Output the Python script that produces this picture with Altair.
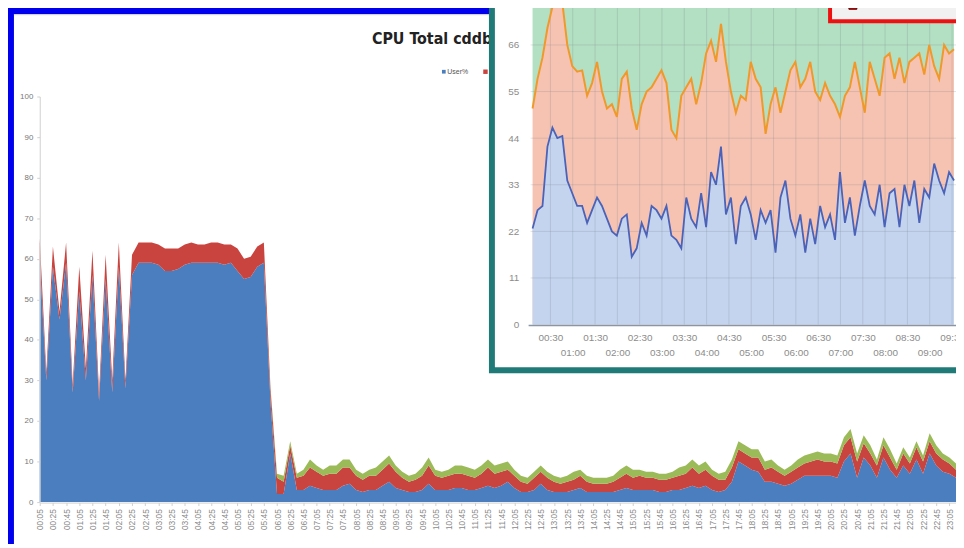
import json
import numpy as np
import pandas as pd
import altair as alt

# ---------------- page geometry ----------------
OX, OY = 8, 8
W, H = 956, 536


def px(x):
    return x - OX


def py(y):
    return y - OY


# ---------------- main chart data (nmon CPU Total) ----------------
main_series = ["User%", "Sys%", "Wait%"]
main_user = [
    60, 30, 58, 45, 59, 27, 52, 30, 56, 25, 55, 27, 58, 28, 56,
    59, 59, 59, 58.5, 57, 57, 57.5, 58.5, 59, 59,
    59, 59, 59, 58.5, 59, 57, 55, 55.5, 58, 59,
    25, 2, 2, 12,
    3, 3, 4, 3.5, 3, 3, 3, 4, 4.5, 3,
    2.5, 3, 3, 4, 5, 3.5, 3, 2.5, 2.5, 3,
    4.5, 3, 3, 3, 3.5, 3.5, 3, 3, 3.5, 4,
    3.5, 4, 5, 3.5, 2.5, 2.5, 3, 4.5, 3, 2.5,
    2.5, 2.5, 3, 3.5, 2.5, 2.5, 2.5, 2.5, 2.5, 3,
    3.5, 3, 3, 3, 3, 2.5, 2.5, 3, 3, 3.5,
    4, 3.5, 4, 3, 2.5, 3, 5, 10, 9, 8,
    7.5, 5, 5, 4.5, 4, 4.5, 5.5, 6.5, 6.5, 6.5,
    6.5, 6.5, 6, 10, 12, 6, 11, 9, 6, 11,
    8, 6, 9, 7, 10.5, 7, 12, 9, 7.5, 7,
    6,
]
main_sys = [
    5, 2, 5, 2, 5, 2, 6, 3, 6, 2, 6, 3, 6, 2, 5,
    5, 5, 5, 5, 5.5, 5.5, 5, 5, 5, 4.5,
    4.5, 5, 5, 5, 4.5, 5.5, 5, 5, 5, 5,
    3, 4, 3, 2,
    3, 3.5, 4.5, 4, 3.5, 4, 4, 4.5, 4, 3.5,
    3, 3.5, 3.5, 4, 4.5, 4, 3, 2.5, 3, 3.5,
    4.5, 3.5, 3, 3.5, 3.5, 3.5, 3.5, 3, 3.5, 4.5,
    3.5, 3.5, 3, 3, 2.5, 2, 3, 3, 3, 2.5,
    2, 2.5, 2.5, 3, 2.5, 2, 2, 2, 2.5, 3,
    3.5, 3, 3.5, 3, 3, 3, 3, 3, 3.5, 3.5,
    4.5, 3.5, 4, 3.5, 3, 2.5, 3.5, 3, 3, 3,
    3.5, 3, 3.5, 3, 2.5, 3, 3, 3, 3.5, 4,
    3.5, 3.5, 3.5, 4, 4, 4, 3.5, 3, 3, 3,
    3, 2, 3, 2.5, 3, 3, 3, 3, 3, 2.5,
    2,
]
main_wait = [
    0, 0, 0, 0, 0, 0, 0, 0, 0, 0, 0, 0, 0, 0, 0,
    0, 0, 0, 0, 0, 0, 0, 0, 0, 0,
    0, 0, 0, 0, 0, 0, 0, 0, 0, 0,
    0.5, 1, 1.5, 1,
    1, 1.5, 2, 1.5, 1.5, 2, 2, 2, 2, 1.5,
    1.5, 1.5, 2, 2, 2, 1.5, 1.5, 1.5, 1.5, 2,
    2, 1.5, 1.5, 1.5, 2, 2, 2, 2, 2, 2,
    2, 2, 2, 1.5, 1.5, 1.5, 1.5, 1.5, 1.5, 1.5,
    1.5, 1.5, 2, 1.5, 1.5, 1.5, 1.5, 1.5, 1.5, 2,
    2, 2, 1.5, 1.5, 1.5, 1.5, 1.5, 1.5, 2, 2,
    2, 2, 2, 1.5, 1.5, 2, 2, 2, 2, 2,
    2, 2, 2, 1.5, 1.5, 1.5, 2, 2, 2, 2,
    2, 2, 2, 2, 2, 2, 2, 2, 1.5, 2,
    2, 1.5, 1.5, 1.5, 1.5, 1.5, 2, 2, 1.5, 1.5,
    1.5,
]
N_MAIN = len(main_user)
main_labels = ["%02d:%02d" % ((5 + 10 * i) // 60, (5 + 10 * i) % 60) for i in range(N_MAIN)]
main_tick_idx = list(range(0, N_MAIN, 2))
main_y_ticks = list(range(0, 101, 10))
main_colors = ["#4a7ebf", "#c9443f", "#9bbb59"]

rows = []
for o, (s, arr) in enumerate(zip(main_series, [main_user, main_sys, main_wait])):
    for i, v in enumerate(arr):
        rows.append({"i": i, "v": v, "s": s, "o": o})
main_df = pd.DataFrame(rows)

# ---------------- inset chart data ----------------
inset_total = [
    51, 58, 63, 70, 75, 75, 76, 66, 61, 59.7,
    60, 54, 57, 62, 55, 51, 52, 49, 58, 59.7,
    51, 46, 52, 55, 56, 58, 60, 57, 46, 44,
    54, 56, 58, 52, 57, 64, 67, 62, 71, 62,
    55, 50, 54, 53, 62, 58, 56, 45, 52, 56,
    50, 55, 60, 62, 56, 58, 62, 55, 53, 57,
    54, 52, 49, 54, 56, 62, 56, 50, 62, 58,
    54, 63, 64, 58, 63, 57, 62, 63, 64, 59,
    66, 61, 58, 66, 64, 65,
]
inset_user = [
    22.7, 27, 28, 42, 46.5, 44, 44.5, 34, 31, 28,
    28, 24, 27, 30, 28, 25, 22, 21, 25, 26,
    16, 18, 24, 21, 28, 27, 25, 28, 21, 20,
    18, 30, 25, 23, 31, 23, 36, 33, 42, 26,
    30, 19, 28, 30, 26, 20, 27, 24, 27, 17,
    30, 34, 25, 21, 26, 17, 25, 19, 28, 23,
    26, 20, 36, 24, 30, 21, 28, 34, 28, 26,
    33, 23, 31, 32, 23, 33, 28, 34, 24, 32,
    30, 38, 34, 31, 36, 34,
]
N_IN = len(inset_user)
inset_minutes = [6 + k * 20.0 / 3.0 for k in range(N_IN)]  # sample times (min after 00:00)
inset_df = pd.DataFrame({"m": inset_minutes, "user": inset_user, "total": inset_total})

inset_x_ticks = list(range(30, 600, 30))
inset_tick_labels = ["%02d:%02d" % (t // 60, t % 60) for t in inset_x_ticks]
inset_y_ticks = [0, 11, 22, 33, 44, 55, 66]
inset_hgrid = [11, 22, 33, 44, 55, 66, 77]

# ---------------- helpers for frames / decoration ----------------
one = pd.DataFrame({"k": [0]})


def box(x1, y1, x2, y2, color, **kw):
    return alt.Chart(one).mark_rect(color=color, **kw).encode(
        x=alt.value(px(x1)), x2=alt.value(px(x2)),
        y=alt.value(py(y1)), y2=alt.value(py(y2)))


def label(x, y, txt, **kw):
    return alt.Chart(one).mark_text(text=txt, **kw).encode(
        x=alt.value(px(x)), y=alt.value(py(y)))


# ---------------- main chart ----------------
main_x_axis = alt.Axis(
    orient="bottom", offset=py(504.5) - H, values=main_tick_idx,
    labelExpr=json.dumps(main_labels) + "[datum.value]",
    labelAngle=270, labelFontSize=8.5, labelColor="#8a8a8a", labelFont="Liberation Sans",
    labelPadding=3, labelOverlap=False, labelFlush=False,
    tickSize=3, tickColor="#d0d0d0", domainColor="#d0d0d0",
    grid=False, title=None, zindex=1)
main_y_axis = alt.Axis(
    orient="left", offset=-px(40), values=main_y_ticks,
    labelFontSize=8, labelColor="#777777", labelFont="Liberation Sans", labelPadding=4,
    tickSize=3, tickColor="#d0d0d0", domainColor="#d0d0d0",
    grid=False, title=None, zindex=1)

main_area = alt.Chart(main_df).mark_area().encode(
    x=alt.X("i:Q", scale=alt.Scale(domain=[0, N_MAIN - 1], range=[px(40), px(964)], nice=False, zero=False),
            axis=main_x_axis),
    y=alt.Y("v:Q", stack="zero", scale=alt.Scale(domain=[0, 100], range=[py(504), py(95)], nice=False),
            axis=main_y_axis),
    color=alt.Color("s:N", scale=alt.Scale(domain=main_series, range=main_colors), legend=None),
    order=alt.Order("o:Q"),
)
main_group = alt.layer(main_area)

main_decor = [
    box(-5, -5, 980, 560, "#0000ee"),
    box(14, 12, 980, 560, "#ffffff"),
    alt.Chart(one).mark_rule(color="#d8d8d8", strokeWidth=1).encode(
        x=alt.value(px(14)), x2=alt.value(px(980)), y=alt.value(py(12.5))),
    label(375, 37, "CPU Total cddbmdb01  20/05/2014", align="left", baseline="middle",
          font="Liberation Sans Narrow, DejaVu Sans Condensed, Roboto", fontSize=16,
          fontWeight="bold", color="#222222"),
    alt.Chart(one).mark_square(color="#4a7ebf", size=14, opacity=1).encode(
        x=alt.value(px(447.5)), y=alt.value(py(70))),
    label(451, 70, "User%", align="left", baseline="middle", fontSize=7,
          font="Liberation Sans", color="#555555"),
    alt.Chart(one).mark_square(color="#c9443f", size=20, opacity=1).encode(
        x=alt.value(px(489.5)), y=alt.value(py(70))),
    label(494, 70, "Sys%", align="left", baseline="middle", fontSize=7,
          font="Liberation Sans", color="#555555"),
]

# ---------------- inset chart ----------------
xs = alt.Scale(domain=[0, 600], range=[px(532.5), px(982.5)], nice=False, zero=False)
ys = alt.Scale(domain=[0, 66], range=[py(325), py(43)], nice=False, zero=True)

row_labels = [[lab] if lab.endswith(":30") else ["", lab] for lab in inset_tick_labels]
inset_x_axis = alt.Axis(
    orient="bottom", offset=py(325.5) - H, values=inset_x_ticks,
    labelExpr=json.dumps(row_labels) + "[round(datum.value / 30) - 1]",
    labelFontSize=10, labelColor="#8c8c8c", labelFont="Liberation Sans", labelLineHeight=15,
    labelPadding=8, labelOverlap=False, labelFlush=False, labelAngle=0,
    ticks=False, domain=True, domainColor="#8797a8", domainWidth=1.5,
    grid=False, title=None, zindex=1)
inset_y_axis = alt.Axis(
    orient="left", offset=-px(535), values=inset_y_ticks,
    labelFontSize=10, labelColor="#8c8c8c", labelFont="Liberation Sans", labelPadding=12,
    ticks=False, domain=False, grid=False, title=None, zindex=1)

X_in = alt.X("m:Q", scale=xs, axis=inset_x_axis)
base_in = alt.Chart(inset_df)

green_area = base_in.mark_area(color="#b3dfc3").encode(
    x=X_in, y=alt.Y("total:Q", scale=ys, axis=inset_y_axis), y2=alt.datum(100))
salmon_area = base_in.mark_area(color="#f6c3b2").encode(
    x=X_in, y=alt.Y("total:Q", scale=ys, axis=inset_y_axis))
blue_area = base_in.mark_area(color="#c4d4ef").encode(
    x=X_in, y=alt.Y("user:Q", scale=ys, axis=inset_y_axis))

hgrid = alt.Chart(pd.DataFrame({"gy": inset_hgrid})).mark_rule(
    color="#6f7f80", strokeWidth=1, opacity=0.22).encode(
    y=alt.Y("gy:Q", scale=ys, axis=inset_y_axis),
    x=alt.value(px(535)), x2=alt.value(W + 10))
vgrid = alt.Chart(pd.DataFrame({"gx": inset_x_ticks})).mark_rule(
    color="#6f7f80", strokeWidth=1, opacity=0.22).encode(
    x=alt.X("gx:Q", scale=xs, axis=inset_x_axis),
    y=alt.value(py(325)), y2=alt.value(-20))

blue_line = base_in.mark_line(color="#4a62b8", strokeWidth=1.8).encode(
    x=X_in, y=alt.Y("user:Q", scale=ys, axis=inset_y_axis))
orange_line = base_in.mark_line(color="#f0992a", strokeWidth=2).encode(
    x=X_in, y=alt.Y("total:Q", scale=ys, axis=inset_y_axis))

inset_group = alt.layer(green_area, salmon_area, blue_area, hgrid, vgrid, blue_line, orange_line)

inset_frame = [
    box(493, -20, 985, 374, "#1f7a78"),
    box(499, -20, 985, 368, "#ffffff"),
]
inset_legend = [
    box(835, -20, 985, 21, "#ee1111"),
    box(839, -20, 985, 17, "#f1f1f1"),
    box(856, -3, 864, 7, "#cc0000", stroke="#550000", strokeWidth=1),
    label(870, 4.5, "user", align="left", baseline="alphabetic", fontSize=11,
          font="Liberation Sans", color="#777777"),
]

chart = alt.layer(
    *main_decor, main_group, *inset_frame, inset_group, *inset_legend
).resolve_scale(
    x="independent", y="independent"
).resolve_axis(
    x="independent", y="independent"
).properties(
    width=W, height=H, padding=0,
    autosize=alt.AutoSizeParams(type="none"),
    background="#ffffff",
).configure_view(strokeWidth=0)

chart.save("out.html", embed_options={"renderer": "svg", "actions": False})
